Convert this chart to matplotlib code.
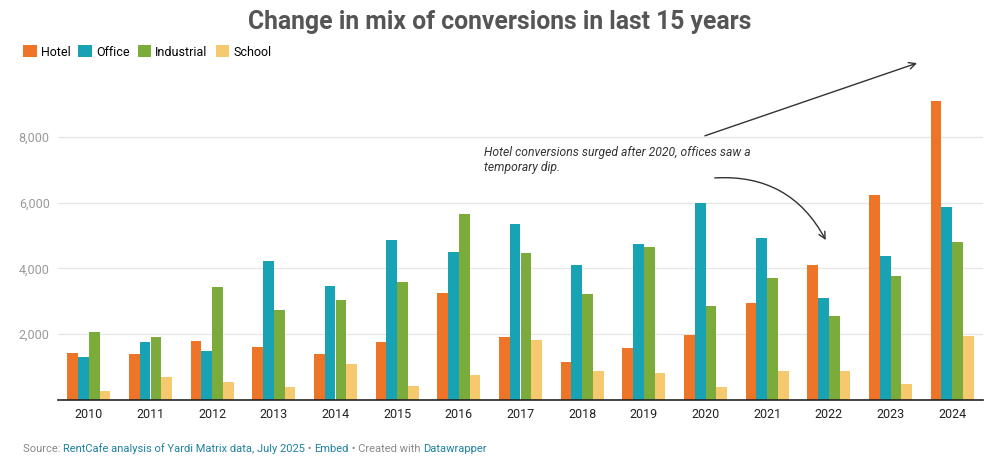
import matplotlib.pyplot as plt
import numpy as np

plt.rcParams['font.family'] = ['Roboto', 'DejaVu Sans']

years = [str(y) for y in range(2010, 2025)]
hotel = [1420, 1395, 1790, 1605, 1395, 1760, 3245, 1915, 1155, 1580, 1975, 2950, 4105, 6230, 9090]
office = [1310, 1760, 1485, 4210, 3455, 4850, 4485, 5350, 4105, 4740, 5990, 4925, 3100, 4375, 5865]
industrial = [2070, 1910, 3425, 2730, 3030, 3575, 5640, 4470, 3220, 4650, 2855, 3710, 2555, 3770, 4800]
school = [275, 700, 545, 395, 1090, 425, 760, 1825, 880, 820, 395, 880, 880, 485, 1945]

series = [('Hotel', hotel, '#ee7527'), ('Office', office, '#17a3b4'),
          ('Industrial', industrial, '#7aab3b'), ('School', school, '#f6c96f')]

fig = plt.figure(figsize=(9.99, 4.61), dpi=100)
ax = fig.add_axes([58/999, 61/461, 925/999, 329/461])

x = np.arange(len(years))
w = 0.175
for i, (name, vals, col) in enumerate(series):
    ax.bar(x + (i - 1.5) * w, vals, width=w, color=col, label=name, zorder=2)

ax.set_xlim(-0.5, len(years) - 0.5)
ax.set_ylim(0, 10000)
ax.set_yticks([2000, 4000, 6000, 8000])
ax.set_yticklabels(['2,000', '4,000', '6,000', '8,000'], color='#999999', fontsize=9)
ax.set_xticks(x)
ax.set_xticklabels(years, fontsize=9, color='#222222')
ax.tick_params(axis='both', length=0)
ax.tick_params(axis='y', pad=6)
ax.tick_params(axis='x', pad=6)
ax.grid(axis='y', color='#e6e6e6', linewidth=0.9, zorder=0)
for s in ['top', 'right', 'left']:
    ax.spines[s].set_visible(False)
ax.spines['bottom'].set_color('#222222')
ax.spines['bottom'].set_linewidth(1.2)
ax.spines['bottom'].set_zorder(3)

# title and legend
fig.text(0.5, 0.952, 'Change in mix of conversions in last 15 years', ha='center', va='center',
         fontsize=17.8, fontweight='bold', color='#555555')
ax.legend(loc='center left', bbox_to_anchor=(23/999, 1 - 52/461), bbox_transform=fig.transFigure,
          ncol=4, frameon=False, fontsize=9, handlelength=1.1, handleheight=1.1,
          handletextpad=0.3, columnspacing=0.65, borderaxespad=0, borderpad=0)

# annotation
ax.text(6.41, 7720, 'Hotel conversions surged after 2020, offices saw a\ntemporary dip.',
        fontsize=8.7, style='italic', color='#333333', va='top', ha='left', linespacing=1.2)
ax.annotate('', xy=(13.43, 10240), xytext=(9.99, 8030), annotation_clip=False,
            arrowprops=dict(arrowstyle='->', color='#333333', lw=1, mutation_scale=12,
                            shrinkA=0, shrinkB=0))
ax.annotate('', xy=(11.95, 4860), xytext=(10.15, 6750), annotation_clip=False,
            arrowprops=dict(arrowstyle='->', color='#333333', lw=1, mutation_scale=12,
                            shrinkA=0, shrinkB=0, connectionstyle='arc3,rad=-0.32'))

# footer
parts = [('RentCafe analysis of Yardi Matrix data, July 2025', '#1d81a2'),
         (' \u2022 ', '#888888'), ('Embed', '#1d81a2'), (' \u2022 Created with ', '#888888'),
         ('Datawrapper', '#1d81a2')]
prev = fig.text(23/999, 1 - 449/461, 'Source: ', color='#888888', fontsize=8, va='center')
for txt, col in parts:
    prev = ax.annotate(txt, xy=(1, 0.5), xycoords=prev, color=col, fontsize=8,
                       va='center', ha='left', annotation_clip=False)

fig.savefig('out.png', dpi=100, facecolor='white')
